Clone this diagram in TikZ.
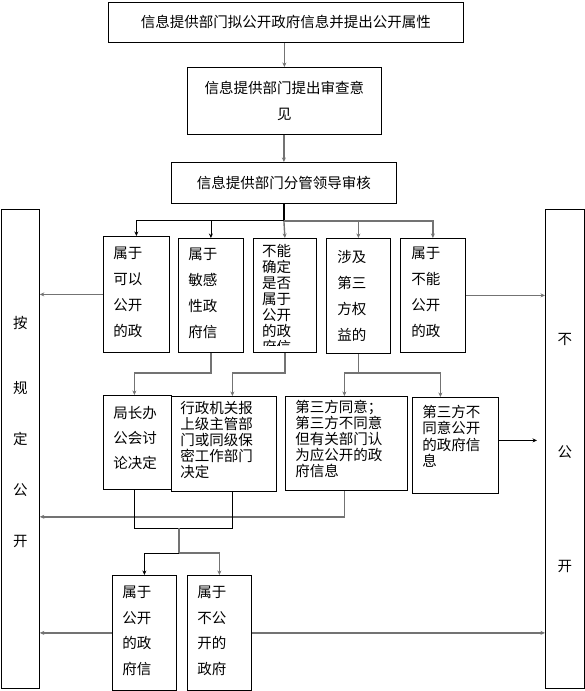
\documentclass[tikz,border=0pt]{standalone}
\usepackage{fontspec}
\setmainfont{Noto Sans CJK SC}
\usetikzlibrary{arrows.meta,calc}

\begin{document}
\begin{tikzpicture}[
    x=1pt, y=-1pt,
    every node/.style={font=\fontsize{14.5pt}{26pt}\selectfont},
    box/.style={rectangle, draw, line width=0.8pt, inner sep=0pt, anchor=north west},
    link/.style={draw=black!55, line width=1.4pt},
    arrow/.style={link, -{Stealth[length=4.5pt,width=4pt]}},
    blackline/.style={draw=black, line width=0.8pt}
]
\useasboundingbox (0,0) rectangle (585,691);

% Nodos de arriba
\node[box, minimum width=355pt, minimum height=40pt] (propose) at (108,2) {信息提供部门拟公开政府信息并提出公开属性};
\node[box, minimum width=194pt, minimum height=67pt, align=center] (opinion) at (187,67) {信息提供部门提出审查意\\见};
\node[box, minimum width=225pt, minimum height=41pt] (leader) at (171,162) {信息提供部门分管领导审核};

% Columnas laterales
\node[box] (open) at (1,209) {\parbox[c][479pt][t]{38pt}{\centering\fontsize{14.5pt}{51pt}\selectfont\vspace*{106.5pt}按\\[14pt]规\\定\\公\\开}};
\node[box] (closed) at (545,209) {\parbox[c][479pt][t]{39pt}{\centering\fontsize{14.5pt}{113.5pt}\selectfont\vspace*{123.5pt}不\\公\\开}};

% Fila A
\node[box, inner xsep=10pt] (canopen) at (103,236) {\parbox[c][116pt][t]{46pt}{\raggedright\vspace*{10.5pt}属于\\可以\\公开\\的政}};
\node[box, inner xsep=10pt] (sensitive) at (178,238) {\parbox[c][114pt][t]{45pt}{\raggedright\vspace*{10pt}属于\\敏感\\性政\\府信}};
\node[box, minimum width=63pt, minimum height=114pt] (unsure) at (253,238) {};
\begin{scope}
  \clip (unsure.north west) rectangle ([yshift=7.5pt]unsure.south east);
  \node[anchor=north west, inner sep=0pt, inner xsep=9pt] (unsuretext) at (unsure.north west) {\parbox[t]{45pt}{\raggedright\fontsize{14.5pt}{16pt}\selectfont\vspace*{6.5pt}不能\\确定\\是否\\属于\\公开\\的政\\府信}};
\end{scope}
\node[box, inner xsep=11pt] (thirdparty) at (326,238) {\parbox[c][115pt][t]{42pt}{\raggedright\vspace*{11.5pt}涉及\\第三\\方权\\益的}};
\node[box, inner xsep=11pt] (cannot) at (400,238) {\parbox[c][114pt][t]{43pt}{\raggedright\vspace*{9pt}属于\\不能\\公开\\的政}};

% Fila B
\node[box, inner xsep=10pt] (meeting) at (103,395) {\parbox[c][94pt][t]{48pt}{\raggedright\fontsize{14.5pt}{25pt}\selectfont\vspace*{10.5pt}局长办\\公会讨\\论决定}};
\node[box, inner xsep=9pt] (superior) at (171,396) {\parbox[c][95pt][t]{87pt}{\raggedright\fontsize{14.5pt}{16pt}\selectfont\vspace*{4.5pt}行政机关报\\上级主管部\\门或同级保\\密工作部门\\决定}};
\node[box, inner xsep=10pt] (agree) at (285,396) {\parbox[c][94pt][t]{102pt}{\raggedright\fontsize{14.5pt}{16pt}\selectfont\vspace*{3.5pt}第三方同意；\\第三方不同意\\但有关部门认\\为应公开的政\\府信息}};
\node[box, inner xsep=10pt] (disagree) at (412,397) {\parbox[c][96pt][t]{66pt}{\raggedright\fontsize{14.5pt}{16.5pt}\selectfont\vspace*{7.5pt}第三方不\\同意公开\\的政府信\\息}};

% Fila C
\node[box, inner xsep=10pt] (public) at (112,575) {\parbox[c][115pt][t]{44pt}{\raggedright\fontsize{14.5pt}{25.7pt}\selectfont\vspace*{10.5pt}属于\\公开\\的政\\府信}};
\node[box, inner xsep=10pt] (nonpublic) at (187,575) {\parbox[c][115pt][t]{44pt}{\raggedright\fontsize{14.5pt}{25.7pt}\selectfont\vspace*{10.5pt}属于\\不公\\开的\\政府}};

% Flechas
\draw[arrow] (opinion.north |- propose.south) -- (opinion.north);
\draw[arrow] (leader.north |- opinion.south) -- (leader.north);
\coordinate (split) at ([yshift=-17pt]leader.south);
\draw[blackline, line width=2.5pt] (leader.south) -- (split);
\draw[arrow, blackline] (split) -| (canopen.north);
\draw[arrow, blackline] (split) -| (sensitive.north);
\draw[arrow] (split) -- (unsure.north);
\draw[arrow] (split) -| (thirdparty.north);
\draw[arrow] (split) -| (cannot.north);

\draw[arrow] (canopen.west) -- (canopen.west -| open.east);
\draw[arrow] (cannot.east) -- (cannot.east -| closed.west);

\draw[arrow] (sensitive.south) -- ++(0,20) -| ([xshift=-3pt]meeting.north);
\draw[arrow] (unsure.south) -- ++(0,20) -| ([xshift=8.5pt]superior.north);
\draw[link] (thirdparty.south) -- ++(0,19) coordinate (fork);
\draw[arrow] (fork) -| ([xshift=-2pt]agree.north);
\draw[arrow] (fork) -| ([xshift=-15pt]disagree.north);

\coordinate (gap) at ($(disagree.east -| closed.west)+(-8,-5)$);
\draw[arrow, blackline] ([yshift=5pt]disagree.east) -- (gap);
\draw[arrow] ([xshift=-2pt]agree.south) -- ++(0,26) coordinate (back) -- (back -| open.east);

\draw[blackline] ([xshift=-3pt]meeting.south) -- ++(0,39) -| ([xshift=8.5pt]superior.south);
\coordinate (merge) at (179,528);
\coordinate (csplit) at (179,553);
\draw[link] (merge) -- (csplit);
\draw[arrow, blackline] (csplit) -| (public.north);
\draw[arrow] (csplit) -| (nonpublic.north);
\draw[arrow] (public.west) -- (public.west -| open.east);
\draw[arrow] (nonpublic.east) -- (nonpublic.east -| closed.west);

\end{tikzpicture}
\end{document}
